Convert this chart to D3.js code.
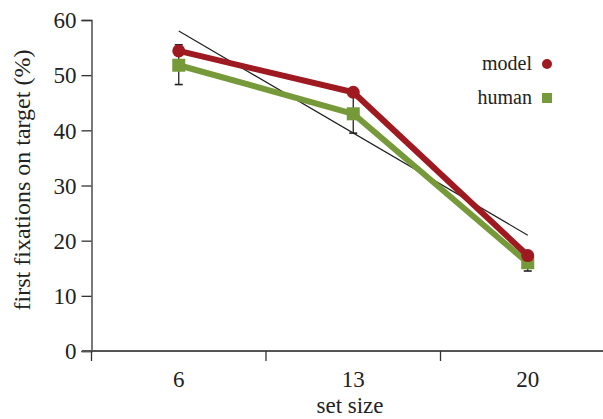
<!DOCTYPE html>
<html>
<head>
<meta charset="utf-8">
<script src="https://cdn.jsdelivr.net/npm/d3@7"></script>
<style>
  body { margin: 0; background: #fff; }
  svg text { font-family: "Times New Roman", Times, "Liberation Serif", "DejaVu Serif", serif; }
</style>
</head>
<body>
<svg id="chart" width="603" height="419"></svg>
<script>
const setSizes = [6, 13, 20];
const modelValues = [54.4, 46.9, 17.3];
const humanValues = [51.8, 43, 16];
const humanErrLow = [48.3, 39.5, 14.5];
const humanErrHigh = [55.5, 46.5, 17.5];
const trendValues = [58, 21];
const yTicks = [0, 10, 20, 30, 40, 50, 60];

const red = '#9e1a20';
const green = '#76993a';
const ink = '#222';

const svg = d3.select('#chart');

const x = d3.scaleBand()
  .domain(setSizes)
  .range([91.5, 615]);
const y = d3.scaleLinear()
  .domain([0, 60])
  .range([351, 20]);
const cx = d => x(d) + x.bandwidth() / 2;

// y axis
const yAxis = d3.axisLeft(y)
  .tickValues(yTicks)
  .tickSize(10)
  .tickPadding(5);
const gy = svg.append('g')
  .attr('transform', 'translate(91.5,0)')
  .call(yAxis)
  .attr('font-family', null)
  .attr('font-size', null);
gy.select('.domain').attr('stroke', '#333').attr('stroke-width', 1.3);
gy.selectAll('.tick line').attr('stroke', '#333').attr('stroke-width', 1.3);
gy.selectAll('.tick text')
  .attr('font-size', '23px')
  .attr('dy', '0.34em')
  .attr('fill', ink);

// x axis
svg.append('line')
  .attr('x1', 82)
  .attr('x2', 603)
  .attr('y1', y(0))
  .attr('y2', y(0))
  .attr('stroke', '#555')
  .attr('stroke-width', 2);
svg.append('g')
  .selectAll('line')
  .data(setSizes)
  .join('line')
    .attr('x1', d => x(d))
    .attr('x2', d => x(d))
    .attr('y1', y(0))
    .attr('y2', y(0) + 10)
    .attr('stroke', '#333')
    .attr('stroke-width', 1.3);
svg.append('g')
  .selectAll('text')
  .data(setSizes)
  .join('text')
    .attr('x', d => cx(d))
    .attr('y', 387)
    .attr('text-anchor', 'middle')
    .attr('font-size', '23px')
    .attr('fill', ink)
    .text(d => d);

// axis titles
svg.append('text')
  .attr('x', 350)
  .attr('y', 413)
  .attr('text-anchor', 'middle')
  .attr('font-size', '23px')
  .attr('fill', ink)
  .text('set size');
svg.append('text')
  .attr('transform', 'translate(30,180) rotate(-90)')
  .attr('text-anchor', 'middle')
  .attr('font-size', '24px')
  .attr('fill', ink)
  .text('first fixations on target (%)');

// error bars
const errG = svg.append('g');
setSizes.forEach((s, i) => {
  errG.append('line')
    .attr('x1', cx(s)).attr('x2', cx(s))
    .attr('y1', y(humanErrLow[i])).attr('y2', y(humanErrHigh[i]))
    .attr('stroke', ink).attr('stroke-width', 1.3);
  [humanErrLow[i], humanErrHigh[i]].forEach(v => {
    errG.append('line')
      .attr('x1', cx(s) - 4).attr('x2', cx(s) + 4)
      .attr('y1', y(v)).attr('y2', y(v))
      .attr('stroke', ink).attr('stroke-width', 1.6);
  });
});

// trend line
svg.append('line')
  .attr('x1', cx(setSizes[0]))
  .attr('x2', cx(setSizes[2]))
  .attr('y1', y(trendValues[0]))
  .attr('y2', y(trendValues[1]))
  .attr('stroke', ink)
  .attr('stroke-width', 1.2);

const line = d3.line()
  .x((d, i) => cx(setSizes[i]))
  .y(d => y(d));

// human series
svg.append('path')
  .datum(humanValues)
  .attr('d', line)
  .attr('fill', 'none')
  .attr('stroke', green)
  .attr('stroke-width', 6)
  .attr('stroke-linejoin', 'round');
svg.append('g')
  .selectAll('rect')
  .data(humanValues)
  .join('rect')
    .attr('x', (d, i) => cx(setSizes[i]) - 6.5)
    .attr('y', d => y(d) - 6.5)
    .attr('width', 13)
    .attr('height', 13)
    .attr('fill', green);

// model series
svg.append('path')
  .datum(modelValues)
  .attr('d', line)
  .attr('fill', 'none')
  .attr('stroke', red)
  .attr('stroke-width', 6)
  .attr('stroke-linejoin', 'round');
svg.append('g')
  .selectAll('circle')
  .data(modelValues)
  .join('circle')
    .attr('cx', (d, i) => cx(setSizes[i]))
    .attr('cy', d => y(d))
    .attr('r', 6.5)
    .attr('fill', red);

// legend
const legend = [
  { name: 'model', color: red, shape: 'circle', ly: 64 },
  { name: 'human', color: green, shape: 'square', ly: 98 }
];
const lg = svg.append('g');
legend.forEach(l => {
  lg.append('text')
    .attr('x', 532)
    .attr('y', l.ly + 6)
    .attr('text-anchor', 'end')
    .attr('font-size', '20px')
    .attr('fill', ink)
    .text(l.name);
  if (l.shape === 'circle') {
    lg.append('circle')
      .attr('cx', 547).attr('cy', l.ly).attr('r', 5)
      .attr('fill', l.color);
  } else {
    lg.append('rect')
      .attr('x', 542).attr('y', l.ly - 5).attr('width', 10).attr('height', 10)
      .attr('fill', l.color);
  }
});
</script>
</body>
</html>
